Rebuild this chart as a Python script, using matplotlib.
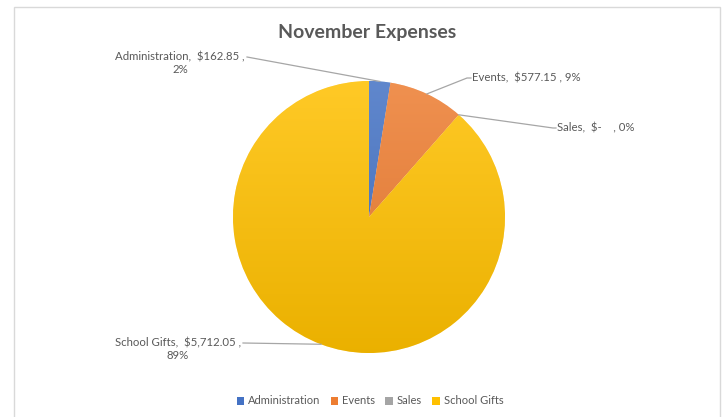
import numpy as np
import matplotlib.pyplot as plt
from matplotlib.patches import Patch, Rectangle
from matplotlib.colors import to_rgb

categories = ["Administration", "Events", "Sales", "School Gifts"]
amounts = [162.85, 577.15, 0.0, 5712.05]
title = "November Expenses"

colors = ["#4472C4", "#ED7D31", "#A5A5A5", "#FFC000"]
text_gray = "#595959"
plt.rcParams['font.family'] = ['Lato', 'DejaVu Sans']

W, H = 724, 417
def Y(y):
    # pixel row (from top) -> data y (from bottom)
    return H - y

def pct_round(vals):
    # round percentages so they still add up to 100 (largest remainder)
    raw = np.array(vals) / np.sum(vals) * 100
    out = np.floor(raw).astype(int)
    left = 100 - out.sum()
    order = np.argsort(-(raw - out))
    out[order[:left]] += 1
    return out

def money(v):
    return "$-   " if v == 0 else f"${v:,.2f}"

pcts = pct_round(amounts)

fig = plt.figure(figsize=(W / 100, H / 100), dpi=100)
ax = fig.add_axes([0, 0, 1, 1])

cx, cy, r = 369, Y(217), 136
wedges, _ = ax.pie(amounts, colors=colors, startangle=90, counterclock=False,
                   center=(cx, cy), radius=r, frame=True,
                   wedgeprops=dict(edgecolor="white", linewidth=0.4))

# soft top-to-bottom gradient inside each slice
t = np.linspace(0, 1, 256)[:, None, None]
for w, c in zip(wedges, colors):
    base = np.array(to_rgb(c))
    top = base + (1 - base) * 0.15
    bot = base * 0.92
    img = top * (1 - t) + bot * t
    img = np.repeat(img, 2, axis=1)
    im = ax.imshow(img, extent=[cx - r, cx + r, cy - r, cy + r], origin="upper",
                   aspect="auto", zorder=w.get_zorder() + 0.1, interpolation="bilinear")
    im.set_clip_path(w)

# data labels with leader lines
label_pos = [(245, 63, "right"), (472, 78, "left"), (557, 128, "left"), (241, 349, "right")]
line_end = [[(247, 57)], [(467, 78), (471, 78)], [(553, 128), (556, 128)], [(243, 343)]]
two_line = [True, False, False, True]
for i, w in enumerate(wedges):
    mid = np.deg2rad((w.theta1 + w.theta2) / 2)
    rim = (cx + r * np.cos(mid), cy + r * np.sin(mid))
    pts = [rim] + [(x, Y(y)) for x, y in line_end[i]]
    xs, ys = zip(*pts)
    ax.plot(xs, ys, color="#A6A6A6", lw=0.9, zorder=5)
    sep = "\n" if two_line[i] else " "
    txt = f"{categories[i]},  {money(amounts[i])} ,{sep}{pcts[i]}%"
    x, y, ha = label_pos[i]
    ax.text(x, Y(y), txt, ha=ha, va="center", multialignment="center",
            fontsize=8.2, color=text_gray, linespacing=1.2)

ax.text(367, Y(32), title, ha="center", va="center", fontsize=14,
        fontweight="bold", color=text_gray)

# chart area border
ax.add_patch(Rectangle((14, -5), 706, Y(7) + 5, fill=False, edgecolor="#D9D9D9", lw=1))

ax.set_xlim(0, W)
ax.set_ylim(0, H)
ax.set_aspect("auto")
ax.axis("off")

handles = [Patch(facecolor=c, edgecolor="none") for c in colors]
fig.legend(handles, categories, loc="center", bbox_to_anchor=(370 / W, 1 - 401 / H),
           ncol=4, frameon=False, handlelength=0.7, handleheight=0.7,
           handletextpad=0.35, columnspacing=0.9, fontsize=8.0, labelcolor=text_gray)

fig.savefig("out.png", dpi=100)
